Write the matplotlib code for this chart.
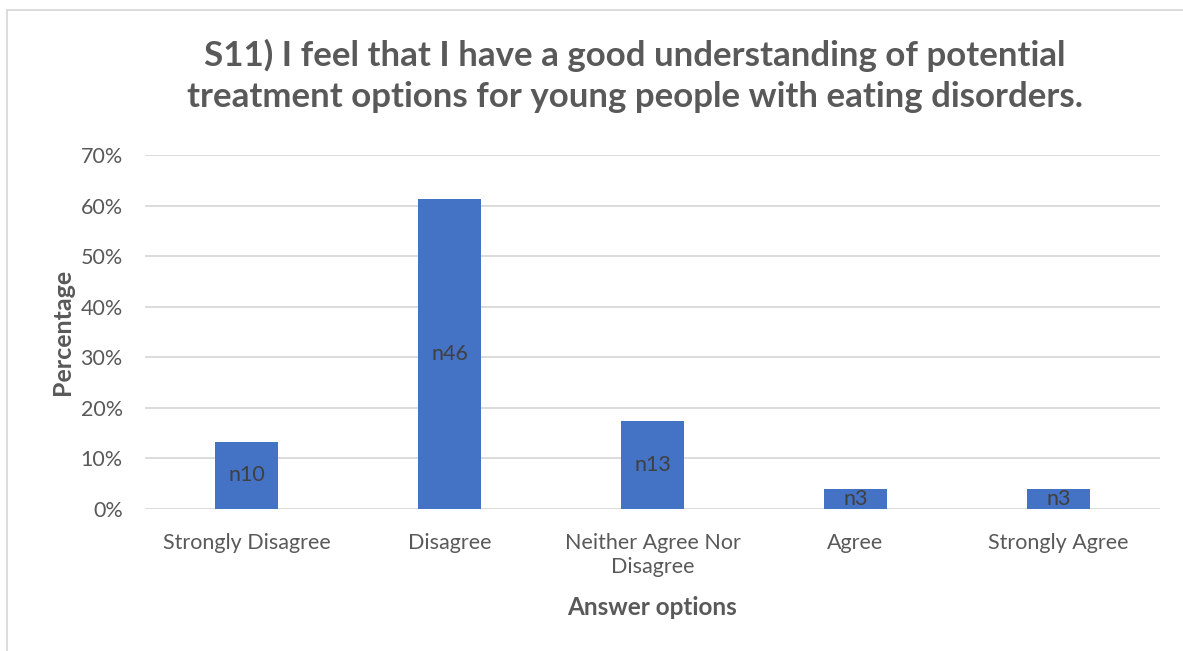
import matplotlib
matplotlib.use("Agg")
import matplotlib.pyplot as plt
from matplotlib.patches import Rectangle
from matplotlib.ticker import PercentFormatter, MultipleLocator

categories = ["Strongly Disagree", "Disagree", "Neither Agree Nor\nDisagree", "Agree", "Strongly Agree"]
counts = [10, 46, 13, 3, 3]
total = sum(counts)
percentages = [c / total * 100 for c in counts]
labels = [f"n{c}" for c in counts]

title = ("S11) I feel that I have a good understanding of potential\n"
         "treatment options for young people with eating disorders.")

plt.rcParams["font.family"] = ["Lato", "DejaVu Sans"]
TEXT = "#595959"
BAR = "#4472C4"
GRID = "#D9D9D9"

W, H = 1183, 651
fig = plt.figure(figsize=(W / 100, H / 100), dpi=100)
fig.patch.set_facecolor("white")

# outer chart border (top and left edges visible)
fig.add_artist(Rectangle((7 / W, -0.1), 1.2, (H - 10) / H + 0.1, transform=fig.transFigure,
                         fill=False, edgecolor="#D9D9D9", linewidth=1.3))

ax = fig.add_axes([145 / W, (H - 509) / H, (1160 - 145) / W, (509 - 155) / H])
x = range(len(categories))
bars = ax.bar(x, percentages, width=0.31, color=BAR, zorder=3)

for b, lab, p in zip(bars, labels, percentages):
    ax.text(b.get_x() + b.get_width() / 2, p / 2, lab, ha="center", va="center",
            fontsize=15.5, color="#404040", zorder=4)

ax.set_xlim(-0.5, len(categories) - 0.5)
ax.set_ylim(0, 70)
ax.yaxis.set_major_locator(MultipleLocator(10))
ax.yaxis.set_major_formatter(PercentFormatter(decimals=0))
ax.grid(axis="y", color=GRID, linewidth=1.3, zorder=0)
for s in ax.spines.values():
    s.set_visible(False)
ax.tick_params(length=0, labelsize=15.5, colors=TEXT)
ax.tick_params(axis="y", pad=16)
ax.tick_params(axis="x", pad=17)
ax.set_xticks(list(x))
ax.set_xticklabels(categories, linespacing=1.25)

ax.set_xlabel("Answer options", fontsize=17.5, fontweight="bold", color=TEXT, labelpad=14)
ax.set_ylabel("Percentage", fontsize=18, fontweight="bold", color=TEXT, labelpad=5)

fig.text(635 / W, (H - 76) / H, title, ha="center", va="center",
         fontsize=25.1, fontweight="bold", color=TEXT, linespacing=1.35)

fig.savefig("out.png", dpi=100, facecolor="white")
